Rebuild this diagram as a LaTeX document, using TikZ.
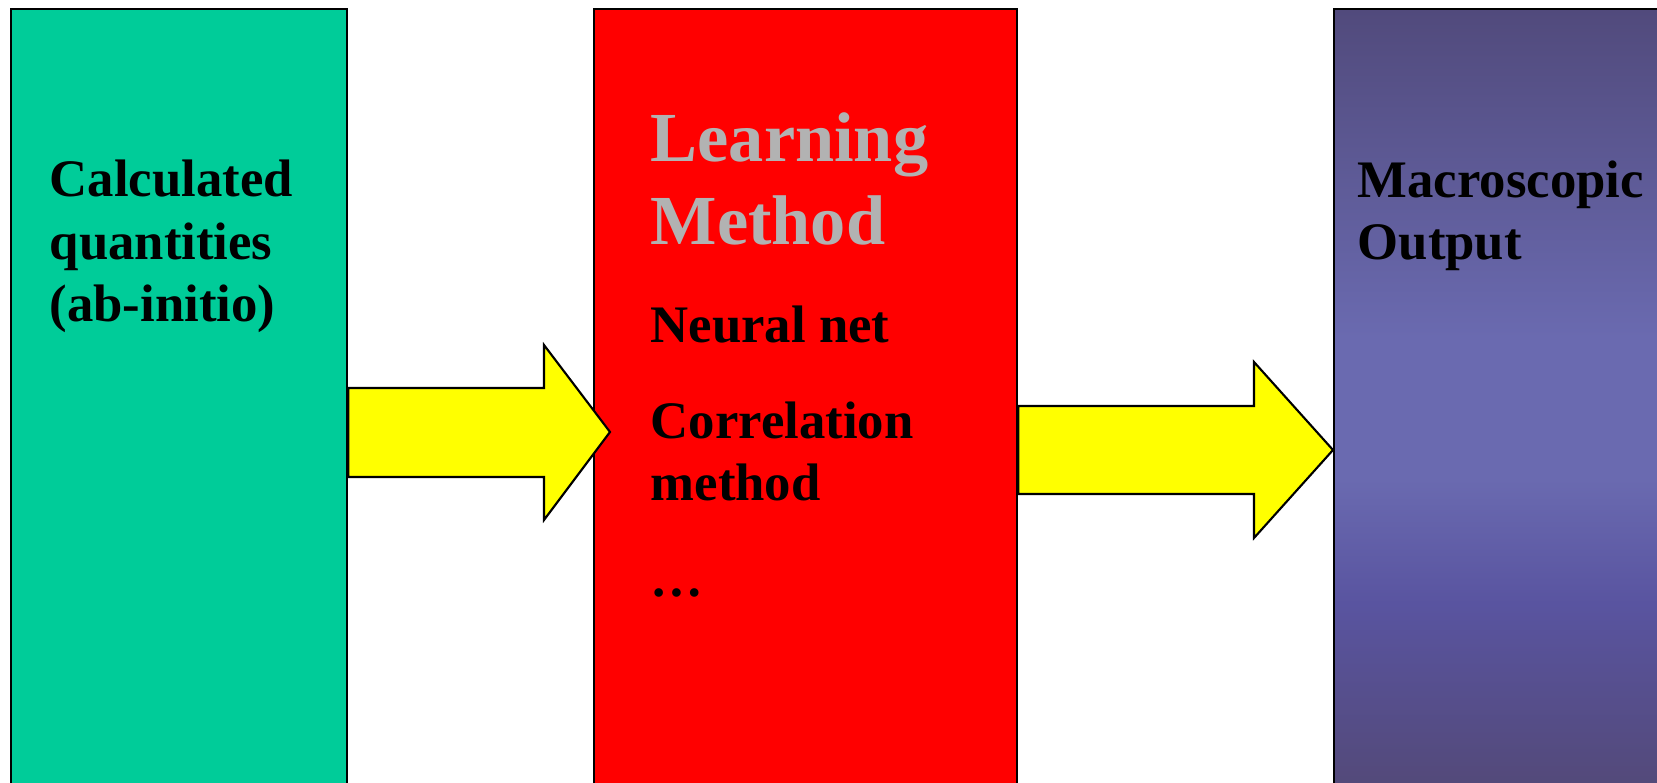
\documentclass[tikz,border=0pt]{standalone}
\usepackage{fontspec}
\setmainfont{Liberation Serif}
\definecolor{CalcGreen}{HTML}{00CC99}
\definecolor{LearnRed}{HTML}{FF0000}
\definecolor{ArrYellow}{HTML}{FFFF00}
\definecolor{TitleGray}{HTML}{B2B2B2}
\definecolor{OutTop}{HTML}{514A7C}
\definecolor{OutMid}{HTML}{6A6AB0}
\definecolor{OutLow}{HTML}{5954A0}
\definecolor{OutBot}{HTML}{534978}
\usepackage{tikz}
\usetikzlibrary{positioning, calc}
\pgfdeclareverticalshading{outshade}{100bp}{color(0bp)=(OutBot); color(25bp)=(OutBot); color(37bp)=(OutLow); color(45bp)=(OutMid); color(54bp)=(OutMid); color(75bp)=(OutTop); color(100bp)=(OutTop)}

\begin{document}
\begin{tikzpicture}[
        x=0.01cm, y=-0.01cm,
        box/.style={draw=black, line width=0.6pt, minimum height=7.82cm, anchor=north west, inner sep=0pt},
        arr/.style={draw=black, line width=0.6pt, fill=ArrYellow, line join=miter},
        lbl/.style={anchor=base west, inner sep=0pt, align=left, font=\fontsize{15}{17.8}\selectfont\bfseries},
        title/.style={anchor=base west, inner sep=0pt, align=left, text=TitleGray, font=\fontsize{20}{23.6}\selectfont\bfseries}
    ]
    \useasboundingbox (0,0) rectangle (1657,783);
    \clip (0,0) rectangle (1657,783);
    % the three blocks
    \node[box, fill=CalcGreen, minimum width=3.36cm] (calc) at (10,8) {};
    \node[box, fill=LearnRed, minimum width=4.23cm] (learn) at (593,8) {};
    \node[box, shading=outshade, minimum width=4.0cm] (out) at (1333,8) {};
    % block arrows
    \draw[arr] (calc.east |- 0,388) -- (544,388) -- (544,345) -- ($(learn.west |- 0,432)+(17,0)$)
        -- (544,520) -- (544,477) -- (calc.east |- 0,477) -- cycle;
    \draw[arr] (learn.east |- 0,406) -- (1254,406) -- (1254,362) -- (out.west |- 0,450)
        -- (1254,538) -- (1254,494) -- (learn.east |- 0,494) -- cycle;
    % texts (base = last line)
    \node[lbl] (calcTxt) at (49,322) {Calculated\\quantities\\(ab-initio)};
    \node[title] (learnTxt) at (650,245) {Learning\\Method};
    \node[lbl] (netTxt) at (650,343) {Neural net};
    \node[lbl] (corrTxt) at (650,501) {Correlation\\method};
    \node[lbl] (dotsTxt) at (650,597) {…};
    \node[lbl] (outTxt) at (1357,260) {Macroscopic\\Output};
\end{tikzpicture}
\end{document}
